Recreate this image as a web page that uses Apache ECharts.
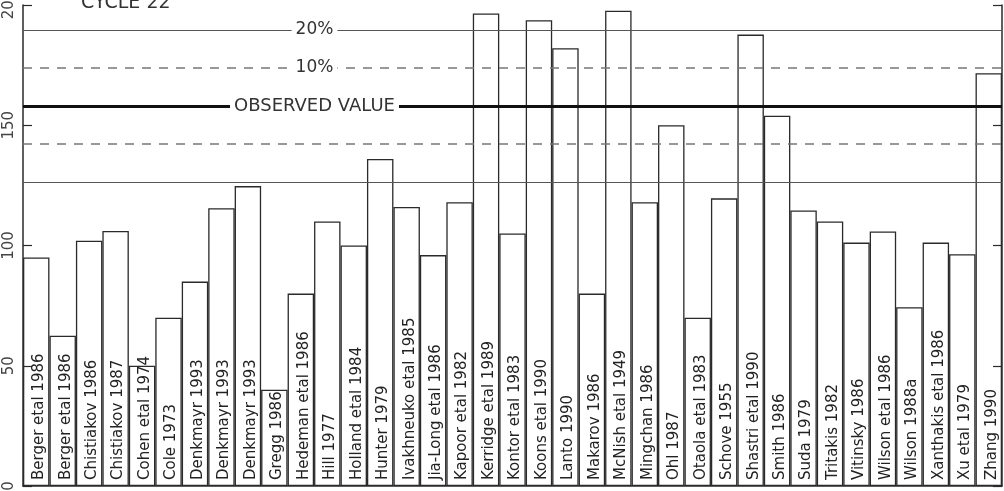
<!DOCTYPE html>
<html>
<head>
<meta charset="utf-8">
<script src="https://cdn.jsdelivr.net/npm/echarts@6/dist/echarts.min.js"></script>
<style>
  html, body { margin: 0; padding: 0; background: #fff; }
  #chart { width: 1004px; height: 491px; }
</style>
</head>
<body>
<div id="chart"></div>
<script>
/* -------------------------------------------------------------------------- */
/*                        Cycle 22 predictions vs observed                     */
/* -------------------------------------------------------------------------- */

const predictions = [
  "Berger etal 1986", "Berger etal 1986", "Chistiakov 1986", "Chistiakov 1987",
  "Cohen etal 1974", "Cole 1973", "Denkmayr 1993", "Denkmayr 1993", "Denkmayr 1993",
  "Gregg 1986", "Hedeman etal 1986", "Hill 1977", "Holland etal 1984", "Hunter 1979",
  "Ivakhneuko etal 1985", "Jia-Long etal 1986", "Kapoor etal 1982", "Kerridge etal 1989",
  "Kontor etal 1983", "Koons etal 1990", "Lanto 1990", "Makarov 1986", "McNish etal 1949",
  "Mingchan 1986", "Ohl 1987", "Otaola etal 1983", "Schove 1955", "Shastri etal 1990",
  "Smith 1986", "Suda 1979", "Tritakis 1982", "Vitinsky 1986", "Wilson etal 1986",
  "Wilson 1988a", "Xanthakis etal 1986", "Xu etal 1979", "Zhang 1990"
];

const maxima = [
  95, 62.5, 102, 106, 50, 70, 85, 115.5, 124.7,
  40, 80, 110, 100, 136,
  116, 96, 118, 196.5,
  105, 193.7, 182, 80, 197.6,
  118, 150, 70, 119.6, 187.7,
  154, 114.6, 110, 101.2, 105.8,
  74.3, 101.2, 96.4, 171.6
];

const refNames = ["20%", "10%", "OBSERVED VALUE", "", ""];
const refValues = [189.6, 173.8, 158, 142.2, 126.4];
const refKinds = ["solid", "dashed", "observed", "dashed", "solid"];

const yMin = 0;
const yMax = 200;
const yStep = 50;

const INK = "#2a2a2a";
const FONT = "DejaVu Sans";

const chart = echarts.init(document.getElementById("chart"));

const lineStyleFor = (kind) => {
  if (kind === "observed") return { color: "#111", width: 3, type: "solid" };
  if (kind === "dashed") return { color: "#777", width: 1.5, type: [9, 8] };
  return { color: "#555", width: 1.2, type: "solid" };
};

const refLines = refValues.map((v, i) => ({
  name: refNames[i],
  yAxis: v,
  lineStyle: lineStyleFor(refKinds[i]),
  label: {
    show: refNames[i] !== "",
    formatter: "{b}",
    position: "middle",
    distance: 0,
    offset: [-198, 0],
    verticalAlign: "middle",
    align: "center",
    color: "#333",
    fontFamily: FONT,
    fontSize: refKinds[i] === "observed" ? 18 : 17,
    backgroundColor: "#fff",
    padding: [0, 4]
  }
}));

const yAxisBase = {
  type: "value",
  min: yMin,
  max: yMax,
  interval: yStep,
  splitLine: { show: false },
  axisLine: { show: true, lineStyle: { color: INK, width: 1.5 } },
  axisTick: { show: true, inside: true, length: 9, lineStyle: { color: INK, width: 1.2 } }
};

chart.setOption({
  animation: false,
  backgroundColor: "#fff",
  title: {
    text: "CYCLE 22",
    left: 76,
    top: -11,
    textStyle: { color: "#333", fontFamily: FONT, fontSize: 19, fontWeight: "normal" }
  },
  grid: { left: 23, right: 2, top: 5, bottom: 5, outerBoundsMode: "none", containLabel: false },
  xAxis: {
    type: "category",
    data: predictions,
    axisLine: { show: true, lineStyle: { color: INK, width: 1.5 } },
    axisTick: { show: false },
    axisLabel: { show: false },
    splitLine: { show: false }
  },
  yAxis: [
    {
      ...yAxisBase,
      position: "left",
      axisLabel: {
        show: true,
        rotate: 90,
        margin: 6,
        color: "#444",
        fontFamily: FONT,
        fontSize: 15
      }
    },
    {
      ...yAxisBase,
      position: "right",
      axisLabel: { show: false }
    }
  ],
  series: [
    {
      type: "bar",
      data: maxima,
      barCategoryGap: "0%",
      itemStyle: { color: "rgba(0,0,0,0)", borderColor: INK, borderWidth: 1.3 },
      label: {
        show: true,
        position: "insideBottom",
        rotate: 90,
        align: "left",
        verticalAlign: "middle",
        distance: 6,
        offset: [0, 3],
        formatter: "{b}",
        color: "#222",
        fontFamily: FONT,
        fontSize: 15
      },
      emphasis: { disabled: true },
      markLine: {
        silent: true,
        symbol: "none",
        data: refLines
      },
      z: 3
    }
  ]
});
</script>
</body>
</html>
